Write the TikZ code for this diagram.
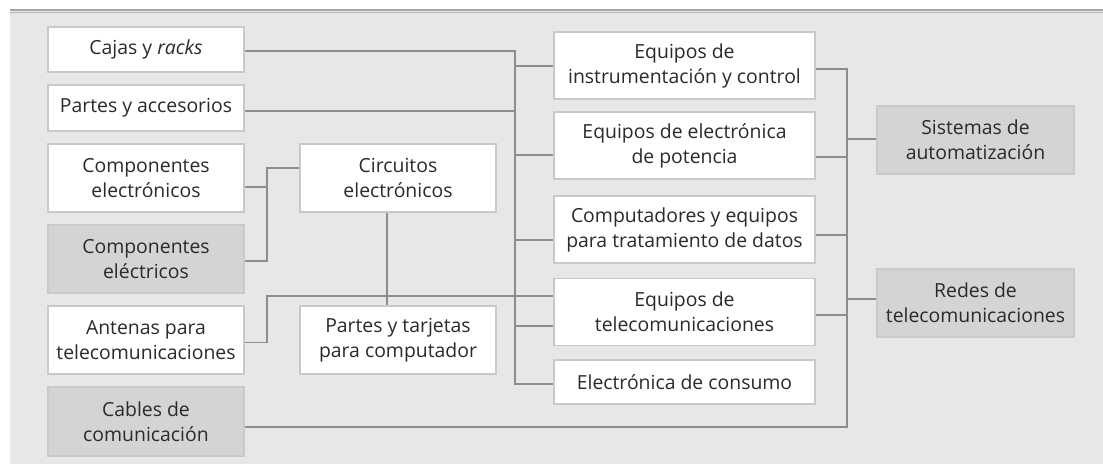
\documentclass[tikz,border=0pt]{standalone}
\usepackage{fontspec}
\setmainfont{Open Sans}
\definecolor{bg}{HTML}{E6E7E9}
\definecolor{boxline}{HTML}{C8C9CB}
\definecolor{gbox}{HTML}{D3D4D6}
\definecolor{conn}{HTML}{8C8D8F}
\definecolor{txt}{HTML}{2A2A2A}
\definecolor{rule}{HTML}{A4A5A7}
\tikzset{
  box/.style={draw=boxline, line width=1.5pt, fill=white, inner sep=0pt, align=center,
    text=txt, font=\fontsize{19.4}{25}\selectfont, minimum height=67pt},
  lbox/.style={box, minimum width=196pt},
  rbox/.style={box, minimum width=261pt},
  shade/.style={fill=gbox},
  wire/.style={draw=conn, line width=1.3pt}
}
\begin{document}
\begin{tikzpicture}[x=1pt,y=-1pt]
\useasboundingbox (0,0) rectangle (1103,464);
\fill[bg] (10,11) rectangle (1103,464);
\draw[rule, line width=2pt] (10,10) -- (1103,10);
\draw[rule!70!bg, line width=0.8pt] (10,12.6) -- (1103,12.6);
% left column
\node[lbox, minimum height=45pt] (cajas) at (146,49.5) {Cajas y \textit{racks}};
\node[lbox, minimum height=46pt] (partes) at (146,108) {Partes y accesorios};
\node[lbox, minimum height=68pt] (compel) at (146,178) {Componentes\\electrónicos};
\node[lbox, shade, minimum height=68pt] (compelec) at (146,259) {Componentes\\eléctricos};
\node[lbox, minimum height=68pt] (antenas) at (146,340) {Antenas para\\telecomunicaciones};
\node[lbox, shade, minimum height=69pt] (cables) at (146,421.5) {Cables de\\comunicación};
% middle column
\node[lbox, minimum height=68pt] (circ) at (398,178) {Circuitos\\electrónicos};
\node[lbox, minimum height=68pt] (tarj) at (398,340) {Partes y tarjetas\\para computador};
% right column
\node[rbox] (instr) at (684.5,65.5) {Equipos de\\instrumentación y control};
\node[rbox] (pot) at (684.5,145.5) {Equipos de electrónica\\de potencia};
\node[rbox] (comp) at (684.5,229.5) {Computadores y equipos\\para tratamiento de datos};
\node[rbox] (tele) at (684.5,312) {Equipos de\\telecomunicaciones};
\node[rbox, minimum height=44pt] (cons) at (684.5,382) {Electrónica de consumo};
% far right
\node[box, shade, minimum width=197pt, minimum height=68pt] (sist) at (975.5,140) {Sistemas de\\automatización};
\node[box, shade, minimum width=197pt, minimum height=68pt] (redes) at (975.5,303) {Redes de\\telecomunicaciones};
% junctions, left bus
\coordinate (lb1) at (515,51);
\coordinate (lb2) at (515,111);
\coordinate (lb3) at (515,66);
\coordinate (lb4) at (515,155);
\coordinate (lb5) at (515,240);
\coordinate (lb6) at (515,326);
\coordinate (lb7) at (515,384);
% junctions, right bus
\coordinate (rb1) at (847,69);
\coordinate (rb2) at (847,157);
\coordinate (rb3) at (847,235);
\coordinate (rb4) at (847,315);
\coordinate (rb5) at (847,139);
\coordinate (rb6) at (847,299);
\coordinate (rb7) at (847,427);
% junctions, small buses
\coordinate (cb1) at (267,187);
\coordinate (cb2) at (267,168);
\coordinate (cb3) at (267,261);
\coordinate (ab1) at (267,342.5);
\coordinate (ab2) at (267,296);
\coordinate (vx) at (387,0);
% left bus
\draw[wire] (cajas.east |- lb1) -- (lb1) -- (lb7) -- (cons.west |- lb7);
\draw[wire] (partes.east |- lb2) -- (lb2);
\draw[wire] (lb3) -- (instr.west |- lb3);
\draw[wire] (lb4) -- (pot.west |- lb4);
\draw[wire] (lb5) -- (comp.west |- lb5);
\draw[wire] (lb6) -- (tele.west |- lb6);
% right bus
\draw[wire] (instr.east |- rb1) -- (rb1) -- (rb7) -- (cables.east |- rb7);
\draw[wire] (pot.east |- rb2) -- (rb2);
\draw[wire] (comp.east |- rb3) -- (rb3);
\draw[wire] (tele.east |- rb4) -- (rb4);
\draw[wire] (rb5) -- (sist.west |- rb5);
\draw[wire] (rb6) -- (redes.west |- rb6);
% components to circuits
\draw[wire] (compel.east |- cb1) -- (cb1);
\draw[wire] (circ.west |- cb2) -- (cb2) -- (cb3) -- (compelec.east |- cb3);
% antennas to telecom equipment
\draw[wire] (antenas.east |- ab1) -- (ab1) -- (ab2) -- (tele.west |- ab2);
% circuits to boards
\draw[wire] (circ.south -| vx) -- (tarj.north -| vx);
\end{tikzpicture}
\end{document}
